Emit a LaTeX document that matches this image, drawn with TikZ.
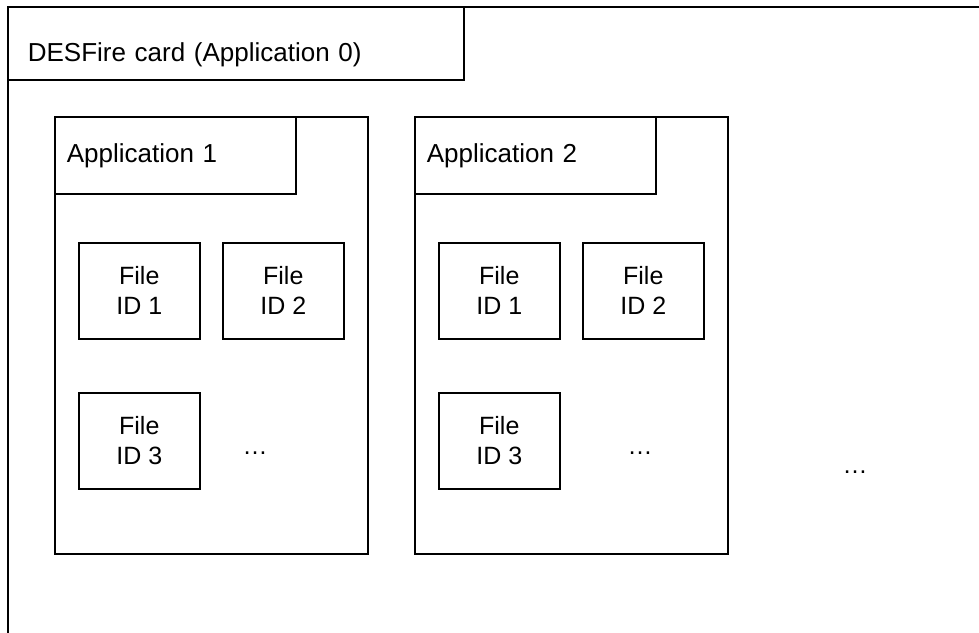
\documentclass[tikz,border=0pt]{standalone}
\usepackage{fontspec}
\setmainfont{Liberation Sans}
\usetikzlibrary{positioning}
\tikzset{outline/.style={draw, rectangle, line width=1.6pt, inner sep=0pt,
                         anchor=north west},
         tag/.style={outline, align=left, text width=#1,
                     font=\fontsize{26}{30}\selectfont},
         app/.style={outline, minimum width=313pt, minimum height=437pt},
         fileid/.style={outline, align=center, minimum width=121pt,
                        minimum height=96pt},
         more/.style={anchor=base}}

\begin{document}
\begin{tikzpicture}[x=1pt, y=-1pt, font=\fontsize{25}{30}\selectfont]

% page and card outline (cut at the edge)
\useasboundingbox (0,0) rectangle (979,632);
\fill[white] (0,0) rectangle (979,632);
\clip (0,0) rectangle (979,632);
\node [outline, minimum width=1200pt, minimum height=900pt] (card) at (7,6) {};
\node [tag=416pt, inner xsep=20pt, minimum height=73pt, text height=37pt,
       text depth=0pt] (cardtag) at (7,6) {DESFire card (Application 0)};

% applications with their files
\foreach \n/\ox/\dx in {1/0/255, 2/360/640} {
  \node [app] (app\n) at (54+\ox,116) {};
  \node [tag=217pt, inner xsep=12pt, minimum height=77pt, text height=18pt,
         text depth=3pt] (apptag\n) at (app\n.north west) {Application \n};
  \node [fileid] (f\n a) at (78+\ox,242) {File\\ID 1};
  \node [fileid] (f\n b) at (222+\ox,242) {File\\ID 2};
  \node [fileid] (f\n c) at (78+\ox,392) {File\\ID 3};
  \node [more] (more\n) at (\dx,454) {…};
}

\node [more] (morecard) at (855,473) {…};

\end{tikzpicture}
\end{document}
